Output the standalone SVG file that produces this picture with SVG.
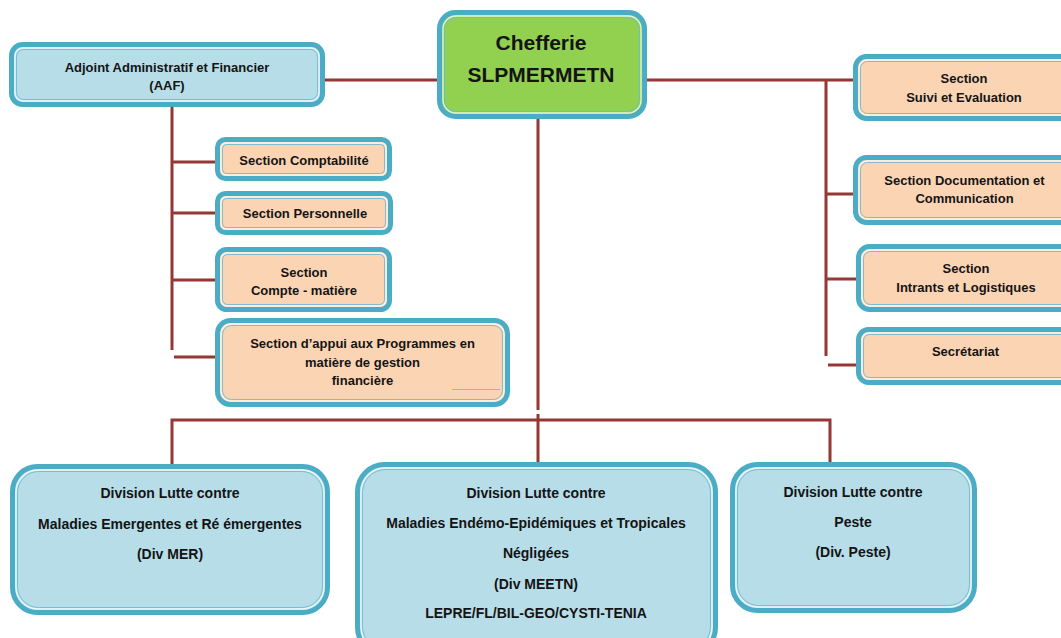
<svg xmlns="http://www.w3.org/2000/svg" width="1061" height="638" viewBox="0 0 1061 638">
<style>
.ob{stroke:#4bacc6;stroke-width:5}
.il{fill:none;stroke:#ffffff;stroke-opacity:.75;stroke-width:1.3}
.ib{fill:none;stroke:#6dbbd1;stroke-width:.9}
.blue{fill:#b7dde8}
.peach{fill:#fbd4b4}
.green{fill:#92d050}
text{font-family:"Liberation Sans",Arial,sans-serif;font-weight:bold;fill:#141414;text-anchor:middle}
.s{font-size:13px}
.d{font-size:14px}
.c{font-size:21px}
.con{fill:none;stroke:#953735;stroke-width:3}
</style>
<rect width="1061" height="638" fill="#ffffff"/>
<g id="connectors" class="con">
<path d="M325,80 H437"/>
<path d="M647,80 H853"/>
<path d="M826,79 V356"/>
<path d="M826,194 H853"/>
<path d="M826,279 H856"/>
<path d="M828,365 H856"/>
<path d="M172,107 V350"/>
<path d="M172,162 H215"/>
<path d="M172,213 H215"/>
<path d="M172,280 H215"/>
<path d="M174,357 H215"/>
<path d="M538,119 V410"/>
<path d="M538,414 V462"/>
<path d="M172,464 V420 H830 V462"/>
</g>
<g id="chefferie">
<rect class="ob green" x="439.5" y="12.5" width="205" height="104" rx="16"/>
<rect class="il" x="443" y="16" width="198" height="97" rx="13"/>
<rect class="ib" x="444.5" y="17.5" width="195" height="94" rx="12"/>
<text class="c" x="541" y="50">Chefferie</text>
<text class="c" x="541" y="82">SLPMERMETN</text>
</g>
<g id="aaf">
<rect class="ob blue" x="11.5" y="44.5" width="311" height="60" rx="11"/>
<rect class="il" x="15" y="48" width="304" height="53" rx="8"/>
<rect class="ib" x="16.5" y="49.5" width="301" height="50" rx="7"/>
<text class="s" x="167" y="72">Adjoint Administratif et Financier</text>
<text class="s" x="167" y="90">(AAF)</text>
</g>
<g id="comptabilite">
<rect class="ob peach" x="217.5" y="139.5" width="172" height="39" rx="8"/>
<rect class="il" x="221" y="143" width="165" height="32" rx="5"/>
<rect class="ib" x="222.5" y="144.5" width="162" height="29" rx="4"/>
<text class="s" x="304" y="165">Section Comptabilité</text>
</g>
<g id="personnelle">
<rect class="ob peach" x="217.5" y="193.5" width="173" height="39" rx="8"/>
<rect class="il" x="221" y="197" width="166" height="32" rx="5"/>
<rect class="ib" x="222.5" y="198.5" width="163" height="29" rx="4"/>
<text class="s" x="305" y="218">Section Personnelle</text>
</g>
<g id="compte-matiere">
<rect class="ob peach" x="217.5" y="249.5" width="172" height="60" rx="9"/>
<rect class="il" x="221" y="253" width="165" height="53" rx="6"/>
<rect class="ib" x="222.5" y="254.5" width="162" height="50" rx="5"/>
<text class="s" x="304" y="277">Section</text>
<text class="s" x="304" y="295">Compte - matière</text>
</g>
<g id="appui">
<rect class="ob peach" x="217.5" y="320.5" width="290" height="84" rx="13"/>
<rect class="il" x="221" y="324" width="283" height="77" rx="10"/>
<rect class="ib" x="222.5" y="325.5" width="280" height="74" rx="9"/>
<path d="M452,389.5 H500" stroke="#7fc3d6" stroke-width="1"/>
<text class="s" x="362.5" y="348">Section d’appui aux Programmes en</text>
<text class="s" x="362.5" y="367">matière de gestion</text>
<text class="s" x="362.5" y="385">financière</text>
</g>
<g id="suivi">
<rect class="ob peach" x="855.5" y="56.5" width="220" height="62" rx="11"/>
<rect class="il" x="859" y="60" width="213" height="55" rx="8"/>
<rect class="ib" x="860.5" y="61.5" width="210" height="52" rx="7"/>
<text class="s" x="964" y="83">Section</text>
<text class="s" x="964" y="102">Suivi et Evaluation</text>
</g>
<g id="documentation">
<rect class="ob peach" x="855.5" y="157.5" width="220" height="65" rx="11"/>
<rect class="il" x="859" y="161" width="213" height="58" rx="8"/>
<rect class="ib" x="860.5" y="162.5" width="210" height="55" rx="7"/>
<text class="s" x="964.5" y="185">Section Documentation et</text>
<text class="s" x="964.5" y="203">Communication</text>
</g>
<g id="intrants">
<rect class="ob peach" x="858.5" y="246.5" width="220" height="63" rx="11"/>
<rect class="il" x="862" y="250" width="213" height="56" rx="8"/>
<rect class="ib" x="863.5" y="251.5" width="210" height="53" rx="7"/>
<text class="s" x="966" y="273">Section</text>
<text class="s" x="966" y="292">Intrants et Logistiques</text>
</g>
<g id="secretariat">
<rect class="ob peach" x="858.5" y="329.5" width="220" height="53" rx="10"/>
<rect class="il" x="862" y="333" width="213" height="46" rx="7"/>
<rect class="ib" x="863.5" y="334.5" width="210" height="43" rx="6"/>
<text class="s" x="965.5" y="356">Secrétariat</text>
</g>
<g id="div-mer">
<rect class="ob blue" x="12.5" y="466.5" width="315" height="146" rx="25"/>
<rect class="il" x="16" y="470" width="308" height="139" rx="22"/>
<rect class="ib" x="17.5" y="471.5" width="305" height="136" rx="21"/>
<text class="d" x="170" y="498">Division Lutte contre</text>
<text class="d" x="170" y="529">Maladies Emergentes et Ré émergentes</text>
<text class="d" x="170" y="559">(Div MER)</text>
</g>
<g id="div-meetn">
<rect class="ob blue" x="357.5" y="464.5" width="358" height="190" rx="27"/>
<rect class="il" x="361" y="468" width="351" height="183" rx="24"/>
<rect class="ib" x="362.5" y="469.5" width="348" height="180" rx="23"/>
<text class="d" x="536" y="498">Division Lutte contre</text>
<text class="d" x="536" y="528">Maladies Endémo-Epidémiques et Tropicales</text>
<text class="d" x="536" y="558">Négligées</text>
<text class="d" x="536" y="589">(Div MEETN)</text>
<text class="d" x="536" y="618">LEPRE/FL/BIL-GEO/CYSTI-TENIA</text>
</g>
<g id="div-peste">
<rect class="ob blue" x="732.5" y="464.5" width="242" height="146" rx="25"/>
<rect class="il" x="736" y="468" width="235" height="139" rx="22"/>
<rect class="ib" x="737.5" y="469.5" width="232" height="136" rx="21"/>
<text class="d" x="853" y="497">Division Lutte contre</text>
<text class="d" x="853" y="527">Peste</text>
<text class="d" x="853" y="557">(Div. Peste)</text>
</g>
</svg>
